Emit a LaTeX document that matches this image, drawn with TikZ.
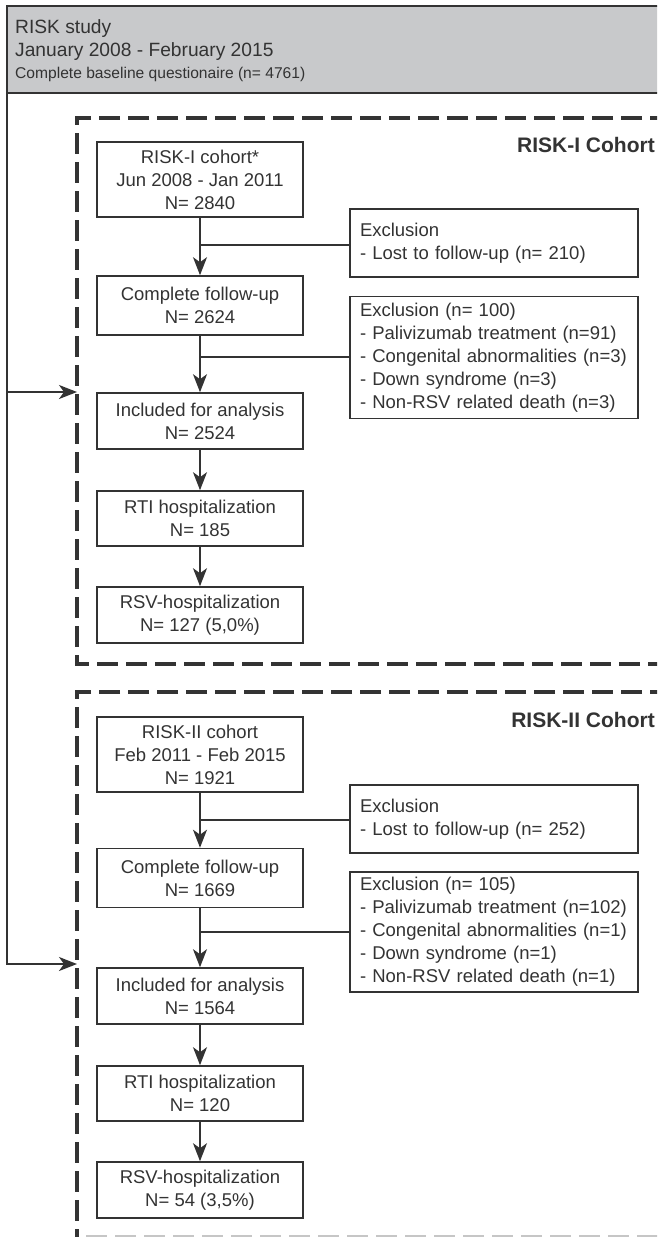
\documentclass[tikz,border=0pt]{standalone}
\usepackage{fontspec}
\newfontfamily\lsans{Liberation Sans}
\usetikzlibrary{arrows.meta}
\definecolor{linec}{HTML}{333333}
\definecolor{textc}{HTML}{333333}
\definecolor{headfill}{HTML}{C8C9CB}
\newcommand\boxfont{\lsans\fontsize{18.5}{23}\selectfont}
\newcommand\hdfont{\lsans\fontsize{19.2}{23}\selectfont}
\newcommand\smallhd{\lsans\fontsize{15.6}{18}\selectfont}
\newcommand\lblfont{\lsans\bfseries\fontsize{21}{24}\selectfont}
\tikzset{
  mainbox/.style={draw=linec, line width=1.6pt, minimum width=206pt, align=center,
    inner sep=0pt, text=textc, font=\boxfont},
  exbox/.style={draw=linec, line width=1.6pt, text width=268pt, inner xsep=10pt,
    inner ysep=0pt, align=left, text=textc, font=\boxfont},
  conn/.style={draw=linec, line width=1.6pt},
  arr/.style={conn, -{Stealth[length=18pt,width=14pt,inset=5pt]}},
  dashbox/.style={draw=linec, line width=3.5pt, dash pattern=on 21pt off 8pt},
  lbl/.style={text=textc, font=\lblfont, inner sep=0pt, anchor=east},
  hd/.style={text=textc, font=\hdfont, inner sep=0pt, anchor=west}
}
\begin{document}
\begin{tikzpicture}[x=1pt,y=-1pt]
\clip (0,0) rectangle (657,1237);
\fill[white] (0,0) rectangle (657,1237);
% header
\fill[headfill] (7,6) rectangle (700,93);
\draw[conn, line width=1.8pt] (7,93) -- (700,93);
\node[hd] (h1) at (15,29) {RISK study};
\node[hd] (h2) at (15,52) {January 2008 - February 2015};
\node[hd, font=\smallhd] (h3) at (15,74) {Complete baseline questionaire (n= 4761)};
% outer line and arrows
\coordinate (o1) at (7,392);
\coordinate (d1) at (77,392);
\coordinate (o2) at (7,964);
\coordinate (d2) at (77,964);
\draw[arr, line width=1.8pt] (700,6) -- (7,6) -- (o2) -- (d2);
\draw[arr] (o1) -- (d1);
% dashed cohort frames
\draw[dashbox] (700,118) -- (77,118) -- (77,664) -- (700,664);
\draw[dashbox] (700,692) -- (77,692) -- (77,1240);
\draw[dashbox, draw=gray!45, line width=2pt] (86,1236) -- (700,1236);
\node[lbl] (l1) at (655,145) {RISK-I Cohort};
\node[lbl] (l2) at (655,720) {RISK-II Cohort};
% RISK-I
\node[mainbox, minimum height=75pt] (c1) at (200,179.5) {RISK-I cohort*\\Jun 2008 - Jan 2011\\N= 2840};
\node[mainbox, minimum height=59pt] (f1) at (200,305.5) {Complete follow-up\\N= 2624};
\node[mainbox, minimum height=56pt] (i1) at (200,421) {Included for analysis\\N= 2524};
\node[mainbox, minimum height=55pt] (t1) at (200,518.5) {RTI hospitalization\\N= 185};
\node[mainbox, minimum height=56pt] (s1) at (200,615) {RSV-hospitalization\\N= 127 (5,0\%)};
\node[exbox, minimum height=68pt] (e1) at (494,243) {Exclusion\\- Lost to follow-up (n= 210)};
\node[exbox, minimum height=122pt] (e2) at (494,357.5) {Exclusion (n= 100)\\- Palivizumab treatment (n=91)\\- Congenital abnormalities (n=3)\\- Down syndrome (n=3)\\- Non-RSV related death (n=3)};
\draw[arr] (c1) -- (f1);
\draw[arr] (f1) -- (i1);
\draw[arr] (i1) -- (t1);
\draw[arr] (t1) -- (s1);
\coordinate (b1) at (200,245);
\coordinate (b2) at (200,357);
\draw[conn] (b1) -- (b1 -| e1.west);
\draw[conn] (b2) -- (b2 -| e2.west);
% RISK-II
\node[mainbox, minimum height=75pt] (c2) at (200,754.5) {RISK-II cohort\\Feb 2011 - Feb 2015\\N= 1921};
\node[mainbox, minimum height=59pt] (f2) at (200,878) {Complete follow-up\\N= 1669};
\node[mainbox, minimum height=56pt] (i2) at (200,996) {Included for analysis\\N= 1564};
\node[mainbox, minimum height=55pt] (t2) at (200,1093.5) {RTI hospitalization\\N= 120};
\node[mainbox, minimum height=56pt] (s2) at (200,1190) {RSV-hospitalization\\N= 54 (3,5\%)};
\node[exbox, minimum height=68pt] (e3) at (494,819) {Exclusion\\- Lost to follow-up (n= 252)};
\node[exbox, minimum height=120pt] (e4) at (494,932) {Exclusion (n= 105)\\- Palivizumab treatment (n=102)\\- Congenital abnormalities (n=1)\\- Down syndrome (n=1)\\- Non-RSV related death (n=1)};
\draw[arr] (c2) -- (f2);
\draw[arr] (f2) -- (i2);
\draw[arr] (i2) -- (t2);
\draw[arr] (t2) -- (s2);
\coordinate (b3) at (200,820);
\coordinate (b4) at (200,932);
\draw[conn] (b3) -- (b3 -| e3.west);
\draw[conn] (b4) -- (b4 -| e4.west);
\end{tikzpicture}
\end{document}
